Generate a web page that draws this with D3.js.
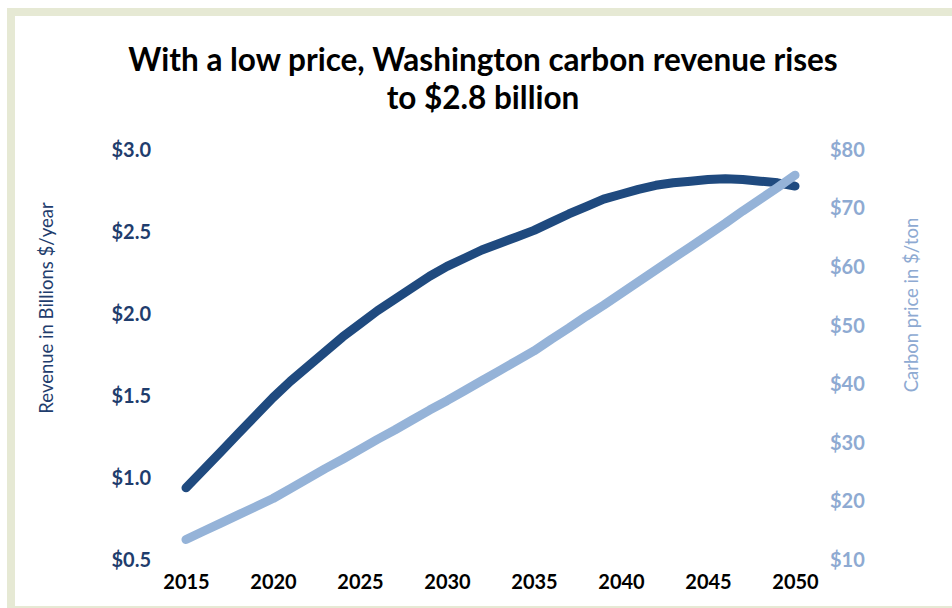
<!DOCTYPE html>
<html>
<head>
<meta charset="utf-8">
<script src="https://cdn.jsdelivr.net/npm/d3@7"></script>
<style>
  html, body { margin: 0; padding: 0; background: #ffffff; }
  svg { display: block; }
  text { font-family: Lato, "Open Sans", "DejaVu Sans", sans-serif; }
</style>
</head>
<body>
<svg id="chart" width="952" height="608"></svg>
<script>
// Washington carbon revenue (billions $/year) and carbon price ($/ton), 2015–2050
const years = d3.range(2015, 2051);
const revenue = [
  0.94, 1.05, 1.16, 1.27, 1.38, 1.49, 1.59, 1.68, 1.77, 1.86,
  1.94, 2.02, 2.09, 2.16, 2.23, 2.29, 2.34, 2.39, 2.43, 2.47,
  2.51, 2.56, 2.61, 2.655, 2.70, 2.73, 2.76, 2.785, 2.80, 2.81,
  2.82, 2.825, 2.82, 2.81, 2.80, 2.78
];
const price = [
  13.5, 14.9, 16.3, 17.7, 19.1, 20.5, 22.2, 23.9, 25.6, 27.2,
  28.9, 30.6, 32.2, 33.9, 35.6, 37.2, 38.9, 40.6, 42.3, 44.0,
  45.7, 47.7, 49.6, 51.6, 53.5, 55.5, 57.5, 59.5, 61.5, 63.5,
  65.5, 67.5, 69.6, 71.6, 73.6, 75.7
];
const xTicks = [2015, 2020, 2025, 2030, 2035, 2040, 2045, 2050];
const revenueTicks = [0.5, 1.0, 1.5, 2.0, 2.5, 3.0];
const priceTicks = [10, 20, 30, 40, 50, 60, 70, 80];
const titleLines = ["With a low price, Washington carbon revenue rises", "to $2.8 billion"];
const leftTitle = "Revenue in Billions $/year";
const rightTitle = "Carbon price in $/ton";

const darkBlue = "#1f4a7f";
const lightBlue = "#95b3d8";
const leftText = "#1f3d6d";
const rightText = "#8eaad2";

const svg = d3.select("#chart");

// frame
svg.append("rect").attr("x", 0).attr("y", 0).attr("width", 952).attr("height", 608).attr("fill", "#ffffff");
svg.append("rect").attr("x", 7).attr("y", 8).attr("width", 960).attr("height", 606).attr("fill", "#e6e9d4");
svg.append("rect").attr("x", 15).attr("y", 16).attr("width", 960).attr("height", 590).attr("fill", "#ffffff");

const x = d3.scaleLinear().domain([2015, 2050]).range([186, 795]);
const yL = d3.scaleLinear().domain([0.5, 3.0]).range([560, 150]);
const yR = d3.scaleLinear().domain([10, 80]).range([560, 150]);

// title
svg.append("g").selectAll("text").data(titleLines).join("text")
  .attr("x", 483).attr("y", (d, i) => 71 + i * 38)
  .attr("text-anchor", "middle")
  .attr("font-size", 31.5).attr("font-weight", 700).attr("fill", "#000")
  .text(d => d);

const tickFont = "Lato, 'Open Sans', sans-serif";

// left axis
const leftAxis = d3.axisLeft(yL).tickValues(revenueTicks)
  .tickFormat(d => "$" + d3.format(".1f")(d)).tickSize(0).tickPadding(0);
const gL = svg.append("g").attr("transform", "translate(151,0)").call(leftAxis);
gL.select(".domain").remove();
gL.selectAll("text").attr("font-size", 20).attr("font-weight", 700)
  .attr("fill", leftText).attr("font-family", tickFont);

// right axis
const rightAxis = d3.axisRight(yR).tickValues(priceTicks)
  .tickFormat(d => "$" + d).tickSize(0).tickPadding(0);
const gR = svg.append("g").attr("transform", "translate(830,0)").call(rightAxis);
gR.select(".domain").remove();
gR.selectAll("text").attr("font-size", 20).attr("font-weight", 700)
  .attr("fill", rightText).attr("font-family", tickFont);

// bottom axis
const bottomAxis = d3.axisBottom(x).tickValues(xTicks).tickFormat(d3.format("d")).tickSize(0).tickPadding(0);
const gB = svg.append("g").attr("transform", "translate(0,575)").call(bottomAxis);
gB.select(".domain").remove();
gB.selectAll("text").attr("font-size", 20).attr("font-weight", 700)
  .attr("fill", "#000").attr("font-family", tickFont);

// axis titles
svg.append("text")
  .attr("transform", "translate(53,308) rotate(-90)")
  .attr("text-anchor", "middle").attr("font-size", 18.5).attr("fill", leftText)
  .text(leftTitle);
svg.append("text")
  .attr("transform", "translate(918,305) rotate(-90)")
  .attr("text-anchor", "middle").attr("font-size", 18.5).attr("fill", rightText)
  .text(rightTitle);

// series
const priceLine = d3.line().x((d, i) => x(years[i])).y(d => yR(d));
const revenueLine = d3.line().x((d, i) => x(years[i])).y(d => yL(d));

svg.append("path").datum(revenue).attr("d", revenueLine)
  .attr("fill", "none").attr("stroke", darkBlue).attr("stroke-width", 9)
  .attr("stroke-linecap", "round").attr("stroke-linejoin", "round");
svg.append("path").datum(price).attr("d", priceLine)
  .attr("fill", "none").attr("stroke", lightBlue).attr("stroke-width", 9)
  .attr("stroke-linecap", "round").attr("stroke-linejoin", "round");
</script>
</body>
</html>
